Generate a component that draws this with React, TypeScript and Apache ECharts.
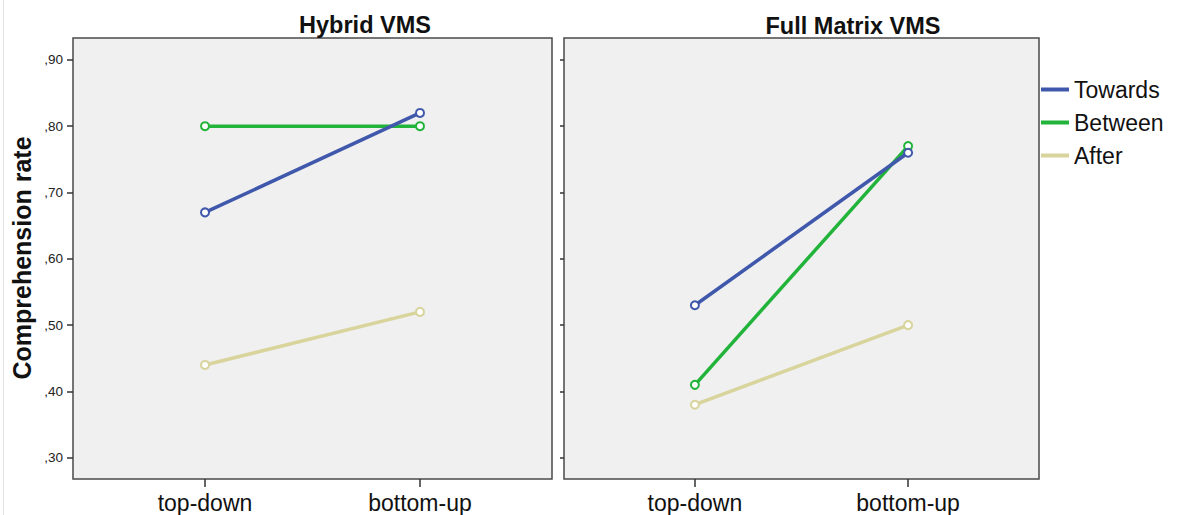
import React, { useEffect, useRef } from 'react';
import * as echarts from 'echarts';

const CATEGORIES = ['top-down', 'bottom-up'];
const PANEL_TITLES = ['Hybrid VMS', 'Full Matrix VMS'];
const SERIES_NAMES = ['Towards', 'Between', 'After'];
const SERIES_COLORS = ['#3f58ab', '#22b43a', '#d8d49c'];
const Y_TICKS = [0.3, 0.4, 0.5, 0.6, 0.7, 0.8, 0.9];
const Y_TITLE = 'Comprehension rate';

const HYBRID_TOWARDS = [0.67, 0.82];
const HYBRID_BETWEEN = [0.8, 0.8];
const HYBRID_AFTER = [0.44, 0.52];
const FULL_TOWARDS = [0.53, 0.76];
const FULL_BETWEEN = [0.41, 0.77];
const FULL_AFTER = [0.38, 0.5];

const PANELS = [
  [HYBRID_TOWARDS, HYBRID_BETWEEN, HYBRID_AFTER],
  [FULL_TOWARDS, FULL_BETWEEN, FULL_AFTER],
];

const FONT = 'Arial, "Liberation Sans", sans-serif';

export default function App() {
  const ref = useRef<HTMLDivElement>(null);
  useEffect(() => {
    if (!ref.current) return;
    const chart = echarts.init(ref.current, null, { renderer: 'svg' });
    const grids = [
      { left: 73, top: 38, width: 479, height: 441 },
      { left: 564, top: 38, width: 475, height: 441 },
    ];
    const xPos = [1, 2];
    const series: any[] = [];
    PANELS.forEach((panel, pi) => {
      panel.forEach((vals, si) => {
        series.push({
          type: 'line',
          name: SERIES_NAMES[si],
          xAxisIndex: pi,
          yAxisIndex: pi,
          data: vals.map((v, i) => [xPos[i], v]),
          color: SERIES_COLORS[si],
          symbol: 'emptyCircle',
          symbolSize: 8,
          lineStyle: { width: 3.5, color: SERIES_COLORS[si] },
          itemStyle: { color: SERIES_COLORS[si], borderWidth: 1.5 },
          z: 3 + (2 - si),
        });
      });
    });
    chart.setOption({
      animation: false,
      backgroundColor: '#ffffff',
      textStyle: { fontFamily: FONT },
      grid: grids.map((g) => ({
        ...g,
        show: true,
        backgroundColor: '#f0f0f0',
        borderColor: '#4a4a4a',
        borderWidth: 1.5,
      })),
      xAxis: grids.map((_, i) => ({
        type: 'value',
        gridIndex: i,
        min: 0.386,
        max: 2.614,
        splitLine: { show: false },
        axisLine: { show: false },
        axisTick: {
          show: true,
          customValues: xPos,
          length: 8,
          lineStyle: { color: '#333', width: 1.5 },
        },
        axisLabel: {
          customValues: xPos,
          formatter: (v: number) => CATEGORIES[Math.round(v) - 1] ?? '',
          fontSize: 23,
          color: '#111',
          margin: 12,
          fontFamily: FONT,
        },
      })),
      yAxis: grids.map((_, i) => ({
        type: 'value',
        gridIndex: i,
        min: 0.268,
        max: 0.933,
        splitLine: { show: false },
        axisLine: { show: false },
        axisTick: {
          show: true,
          customValues: Y_TICKS,
          length: i === 0 ? 6 : 4,
          lineStyle: { color: '#333', width: 1.5 },
        },
        axisLabel: {
          show: i === 0,
          customValues: Y_TICKS,
          formatter: (v: number) => ',' + v.toFixed(2).slice(2),
          fontSize: 13.5,
          color: '#222',
          margin: 10,
          fontFamily: FONT,
        },
      })),
      legend: {
        orient: 'vertical',
        left: 1041,
        top: 78,
        padding: 0,
        itemWidth: 28,
        itemHeight: 4,
        itemGap: 10,
        icon: 'rect',
        data: SERIES_NAMES.map((n, i) => ({ name: n, itemStyle: { color: SERIES_COLORS[i] } })),
        textStyle: { fontSize: 23, color: '#111', fontFamily: FONT },
      },
      graphic: [
        {
          type: 'line',
          shape: { x1: 3.5, y1: 0, x2: 3.5, y2: 515 },
          style: { stroke: '#e2e2e2', lineWidth: 1 },
        },
        {
          type: 'text',
          x: 365,
          y: 25,
          style: {
            text: PANEL_TITLES[0],
            font: `bold 23.5px ${FONT}`,
            fill: '#111',
            align: 'center',
            verticalAlign: 'middle',
          },
        },
        {
          type: 'text',
          x: 853,
          y: 26,
          style: {
            text: PANEL_TITLES[1],
            font: `bold 23.5px ${FONT}`,
            fill: '#111',
            align: 'center',
            verticalAlign: 'middle',
          },
        },
        {
          type: 'text',
          x: 22,
          y: 258,
          rotation: Math.PI / 2,
          style: {
            text: Y_TITLE,
            font: `bold 25px ${FONT}`,
            fill: '#111',
            align: 'center',
            verticalAlign: 'middle',
          },
        },
      ],
      series,
    });
    return () => chart.dispose();
  }, []);
  return (
    <div
      ref={ref}
      style={{ position: 'fixed', left: 0, top: 0, width: 1178, height: 515 }}
    />
  );
}
